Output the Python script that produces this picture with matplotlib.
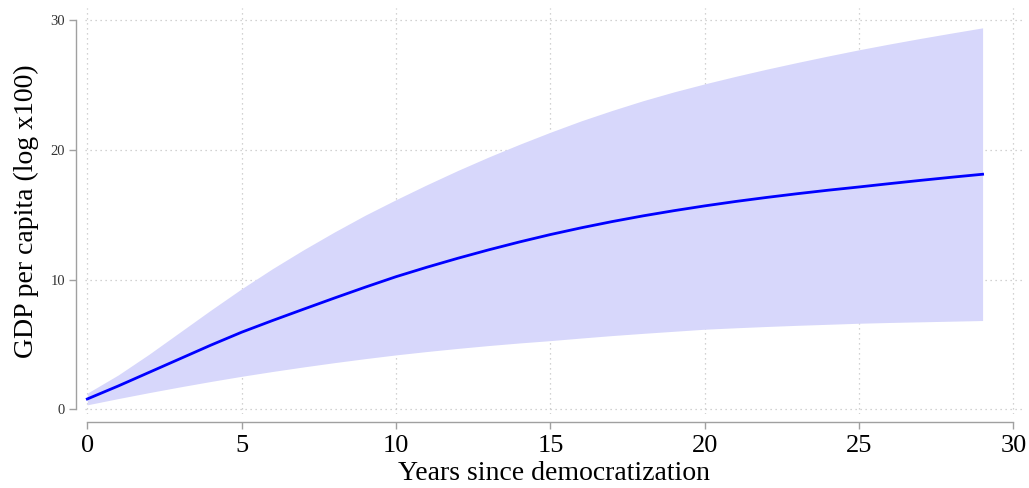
import matplotlib
matplotlib.use('Agg')
import matplotlib.pyplot as plt

# Years since democratization.
years = list(range(0, 30))
gdp_effect = [0.8, 1.8, 2.85, 3.9, 4.95, 5.95, 6.85, 7.72, 8.58, 9.42,
              10.23, 10.96, 11.65, 12.3, 12.91, 13.48, 14.0, 14.48, 14.92, 15.32,
              15.69, 16.03, 16.34, 16.63, 16.9, 17.15, 17.41, 17.66, 17.9, 18.13]
ci_upper = [1.25, 2.65, 4.25, 5.95, 7.65, 9.3, 10.85, 12.3, 13.67, 14.97,
            16.17, 17.32, 18.42, 19.46, 20.44, 21.37, 22.25, 23.05, 23.8, 24.48,
            25.1, 25.68, 26.23, 26.75, 27.25, 27.73, 28.18, 28.61, 29.02, 29.42]
ci_lower = [0.35, 0.83, 1.29, 1.73, 2.15, 2.55, 2.92, 3.27, 3.6, 3.91,
            4.2, 4.46, 4.7, 4.92, 5.12, 5.3, 5.5, 5.69, 5.86, 6.02,
            6.18, 6.29, 6.39, 6.48, 6.56, 6.64, 6.7, 6.75, 6.8, 6.85]
x_ticks = [0, 5, 10, 15, 20, 25, 30]
y_ticks = [0, 10, 20, 30]

plt.rcParams['font.family'] = ['Liberation Serif', 'DejaVu Serif']

fig = plt.figure(figsize=(10.29, 4.88), dpi=100)
ax = fig.add_axes([0.0826, 0.1516, 0.9116, 0.832])

ax.fill_between(years, ci_lower, ci_upper, color='#d7d7fb', linewidth=0)
ax.plot(years, gdp_effect, color='#0000ff', linewidth=2)

ax.set_xlim(-0.075, 30.31)
ax.set_ylim(-0.36, 30.95)
ax.set_xticks(x_ticks)
ax.set_yticks(y_ticks)
ax.grid(True, linestyle=(0, (1, 3)), color='#c4c4c4', linewidth=0.9)
ax.set_axisbelow(True)

for side in ['top', 'right']:
    ax.spines[side].set_visible(False)
ax.spines['left'].set_position(('outward', 6.5))
ax.spines['bottom'].set_position(('outward', 5.8))
ax.spines['left'].set_bounds(0, 30)
ax.spines['bottom'].set_bounds(0, 30)
for side in ['left', 'bottom']:
    ax.spines[side].set_color('#a0a0a0')
    ax.spines[side].set_linewidth(1.0)

ax.tick_params(axis='both', colors='#a0a0a0', length=5, width=1.0)
ax.tick_params(axis='x', labelsize=19, labelcolor='black', pad=4)
ax.tick_params(axis='y', labelsize=10.5, labelcolor='#333333', pad=3)

ax.set_xlabel('Years since democratization', fontsize=20, labelpad=3)
ax.set_ylabel('GDP per capita (log x100)', fontsize=20, labelpad=8)

fig.savefig('out.png', dpi=100)
